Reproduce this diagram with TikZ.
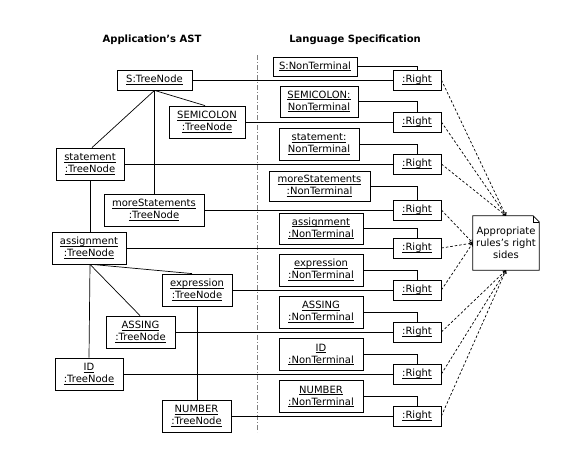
\documentclass[tikz,border=0pt]{standalone}
\usepackage{fontspec}
\setmainfont{DejaVu Sans}
\usetikzlibrary{arrows.meta}
\newsavebox{\myulbox}
\newcommand{\myul}[1]{\vphantom{Ad}\sbox{\myulbox}{#1}\rlap{\rule[-2.2pt]{\wd\myulbox}{1pt}}\smash{\usebox{\myulbox}}}
\begin{document}
\begin{tikzpicture}[x=1pt,y=-1pt,
  every node/.style={font=\fontsize{10}{12}\selectfont},
  obj/.style={draw, line width=0.8pt, inner sep=0pt, align=center, minimum height=32pt},
  rbox/.style={obj, minimum width=48pt, minimum height=20pt},
  link/.style={line width=0.8pt},
  tlink/.style={line width=0.7pt},
  sep/.style={draw=gray, line width=0.8pt, dash pattern=on 5pt off 2pt on 1pt off 2pt},
  anno/.style={line width=0.7pt, dash pattern=on 2.5pt off 2pt, -{Straight Barb[length=2.5pt,width=3.5pt]}},
  hdr/.style={font=\fontsize{10}{12}\selectfont\bfseries}
]
\useasboundingbox (0,0) rectangle (568,464);

% headers
\node[hdr] (h1) at (152,40) {Application's AST};
\node[hdr] (h2) at (355,40) {Language Specification};

% separator
\coordinate (sepT) at (257,55);
\coordinate (sepB) at (257,432);
\draw[sep] (sepT) -- (sepB);

% tree nodes
\node[obj, minimum width=75pt, minimum height=20pt] (S) at (154.5,80) {\myul{S:TreeNode}};
\node[obj, minimum width=76pt] (SEMI) at (207,122) {\myul{SEMICOLON}\\\myul{:TreeNode}};
\node[obj, minimum width=68pt] (stmt) at (90,164) {\myul{statement}\\\myul{:TreeNode}};
\node[obj, minimum width=100pt] (more) at (154,210) {\myul{moreStatements}\\\myul{:TreeNode}};
\node[obj, minimum width=74pt] (asg) at (89,248) {\myul{assignment}\\\myul{:TreeNode}};
\node[obj, minimum width=70pt] (expr) at (197,290) {\myul{expression}\\\myul{:TreeNode}};
\node[obj, minimum width=69pt] (ass) at (140.5,332) {\myul{ASSING}\\\myul{:TreeNode}};
\node[obj, minimum width=68pt] (id) at (89,374) {\myul{ID}\\\myul{:TreeNode}};
\node[obj, minimum width=69pt] (num) at (196.5,416) {\myul{NUMBER}\\\myul{:TreeNode}};

% tree edges
\draw[tlink] (S.south) -- ([xshift=2pt]stmt.north);
\draw[tlink] (S.south) -- ([xshift=-2pt]SEMI.north);
\draw[tlink] (S.south) -- (more.north -| S.south);
\draw[tlink] (stmt.south) -- (asg.north -| stmt.south);
\draw[tlink] ([xshift=1pt]asg.south) -- (id.north -| asg.south);
\draw[tlink] ([xshift=1pt]asg.south) -- ([xshift=-0.5pt]ass.north);
\draw[tlink] ([xshift=3pt]asg.south) -- ([xshift=-5pt]expr.north);
\draw[tlink] (expr.south) -- (num.north -| expr.south);

% non-terminals
\node[obj, minimum width=84pt, minimum height=19pt] (nS) at (315,66.5) {\myul{S:NonTerminal}};
\node[obj, minimum width=78pt, minimum height=31pt] (nSEMI) at (319,101.5) {\myul{SEMICOLON:}\\\myul{NonTerminal}};
\node[obj, minimum width=80pt] (nstmt) at (319,144) {\myul{statement:}\\\myul{NonTerminal}};
\node[obj, minimum width=101pt, minimum height=30pt] (nmore) at (319.5,186) {\myul{moreStatements}\\\myul{:NonTerminal}};
\node[obj, minimum width=84pt, minimum height=31pt] (nasg) at (321,228.5) {\myul{assignment}\\\myul{:NonTerminal}};
\node[obj, minimum width=84pt] (nexpr) at (321,270) {\myul{expression}\\\myul{:NonTerminal}};
\node[obj, minimum width=84pt] (nass) at (321,312) {\myul{ASSING}\\\myul{:NonTerminal}};
\node[obj, minimum width=84pt] (nid) at (321,354.5) {\myul{ID}\\\myul{:NonTerminal}};
\node[obj, minimum width=84pt] (nnum) at (321,396.5) {\myul{NUMBER}\\\myul{:NonTerminal}};

% rights
\foreach \n/\y in {1/80,2/122,3/164,4/210,5/248,6/290,7/332,8/374,9/416}
  \node[rbox] (R\n) at (417,\y) {\myul{:Right}};

% tree -> right
\draw[link] (S.east) -- (R1.west);
\draw[link] (SEMI.east) -- (R2.west);
\draw[link] (stmt.east) -- (R3.west);
\draw[link] (more.east) -- (R4.west);
\draw[link] (asg.east) -- (R5.west);
\draw[link] (expr.east) -- (R6.west);
\draw[link] (ass.east) -- (R7.west);
\draw[link] (id.east) -- (R8.west);
\draw[link] (num.east) -- (R9.west);

% nonterminal -> right
\draw[link] (nS.east) -| (R1.north);
\draw[link] (nSEMI.east) -| (R2.north);
\draw[link] (nstmt.east) -| (R3.north);
\draw[link] (nmore.east) -| (R4.north);
\draw[link] (nasg.east) -| (R5.north);
\draw[link] (nexpr.east) -| (R6.north);
\draw[link] (nass.east) -| (R7.north);
\draw[link] (nid.east) -| (R8.north);
\draw[link] (nnum.east) -| (R9.north);

% note
\node[minimum width=66pt, minimum height=54pt, inner sep=0pt, align=center] (note) at (506,243) {Appropriate\\rules's right\\sides};
\draw[line width=0.8pt] (note.north west) -- ([xshift=-6pt]note.north east) -- ([yshift=-6pt]note.north east) -- (note.south east) -- (note.south west) -- cycle;
\draw[line width=0.6pt] ([xshift=-6pt]note.north east) -- ([xshift=-6pt,yshift=-6pt]note.north east) -- ([yshift=-6pt]note.north east);

% annotations
\foreach \n in {1,2,3} \draw[anno] (R\n.east) -- (note.north);
\foreach \n in {4,5,6} \draw[anno] (R\n.east) -- (note.west);
\foreach \n in {7,8,9} \draw[anno] (R\n.east) -- (note.south);
\end{tikzpicture}
\end{document}
